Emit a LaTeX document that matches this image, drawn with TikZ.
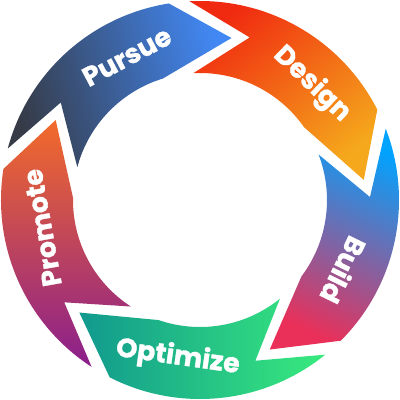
\documentclass[tikz,border=0pt]{standalone}
\usepackage{fontspec}
\setmainfont{Poppins}
\newfontfamily\labfont{Poppins}[FakeBold=1.2]
\definecolor{pdark}{HTML}{363B47}
\definecolor{pblue}{HTML}{4288F4}
\definecolor{dred}{HTML}{F02A10}
\definecolor{dorange}{HTML}{F5A81C}
\definecolor{bblue}{HTML}{00A3FF}
\definecolor{bpink}{HTML}{EA2F58}
\definecolor{oteal}{HTML}{11998E}
\definecolor{ogreen}{HTML}{38EA7D}
\definecolor{morange}{HTML}{F26B2A}
\definecolor{mpink}{HTML}{E63A5A}
\definecolor{mpurple}{HTML}{8A1F8D}
\newcommand\cycseg[2]{%
  \shade[#2] (#1:199) arc[start angle=#1, end angle=#1-66, radius=199]
    -- (#1-86:165) -- (#1-58:127)
    arc[start angle=#1-58, end angle=#1, radius=127]
    -- (#1-20:170) -- cycle;}
\tikzset{lab/.style={text=white, font=\labfont\bfseries\fontsize{27}{27}\selectfont, inner sep=0pt}}
\begin{document}
\begin{tikzpicture}[x=1bp,y=1bp]
\useasboundingbox (-200,-200) rectangle (200,200);
\cycseg{165}{top color=pdark, bottom color=pblue, shading angle=105}
\cycseg{93}{top color=dred, bottom color=dorange, shading angle=40}
\cycseg{21}{top color=bblue, bottom color=bpink, shading angle=-25}
\cycseg{-51}{top color=oteal, bottom color=ogreen, shading angle=90}
\cycseg{-123}{top color=morange, middle color=mpink, bottom color=mpurple, shading angle=0}
\node[lab, rotate=28] (pursue) at (117:161) {Pursue};
\node[lab, rotate=-44] (design) at (46:161) {Design};
\node[lab, rotate=-116] (build) at (-26:160) {Build};
\node[lab, rotate=-8] (optimize) at (-98:159) {Optimize};
\node[lab, rotate=100] (promote) at (190:160) {Promote};
\end{tikzpicture}
\end{document}
